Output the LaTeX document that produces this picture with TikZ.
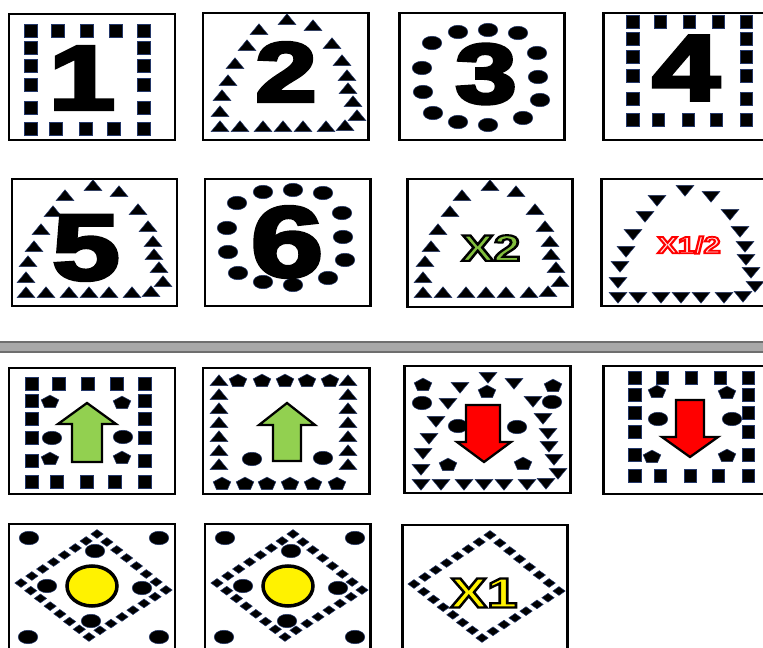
\documentclass[tikz,border=0pt]{standalone}
\usepackage{fontspec}
\setmainfont{Liberation Sans}
\usetikzlibrary{calc,shapes.geometric}
\definecolor{mkedge}{RGB}{35,55,105}
\definecolor{upgreen}{RGB}{146,208,80}
\definecolor{xgreen}{RGB}{130,190,60}
\definecolor{barfill}{RGB}{168,168,168}
\definecolor{baredge}{RGB}{110,110,110}
\definecolor{halfpink}{RGB}{255,225,225}
% text filled in one colour, stroked in another (#2: stroke colour op, #3: width)
\newcommand{\strokedtext}[4]{{\color{#1}\special{pdf:literal direct 2 Tr #3 w #2}#4%
  \special{pdf:literal direct 0 Tr}}}
\tikzset{
 tile/.style={draw=black,line width=1.7pt,fill=white},
 mk sq/.style={rectangle,fill=black,draw=mkedge,line width=.3pt,
               minimum width=.25cm,minimum height=.26cm,inner sep=0pt},
 mk up/.style={regular polygon,regular polygon sides=3,fill=black,draw=mkedge,
               line width=.3pt,minimum size=.41cm,inner sep=0pt,yscale=.7},
 mk down/.style={mk up,shape border rotate=180},
 mk dot/.style={ellipse,fill=black,draw=mkedge,line width=.3pt,
                minimum width=.39cm,minimum height=.27cm,inner sep=0pt},
 mk pent/.style={regular polygon,regular polygon sides=5,fill=black,draw=mkedge,
                 line width=.3pt,minimum size=.37cm,inner sep=0pt,yscale=.74},
 mk dia/.style={diamond,fill=black,draw=mkedge,line width=.3pt,
                minimum width=.25cm,minimum height=.18cm,inner sep=0pt},
 digit/.style={font=\fontsize{#1}{#1}\selectfont\bfseries,inner sep=0pt,xscale=1.3},
 up arrow/.style={fill=upgreen,draw=black,line width=1.3pt,line join=miter},
 down arrow/.style={fill=red,draw=black,line width=1.3pt,line join=miter},
 sun/.style={ellipse,fill=yellow,draw=black,line width=2pt,
             minimum width=1.0cm,minimum height=.8cm,inner sep=0pt},
 sep bar/.style={fill=barfill,draw=baredge,line width=1pt}
}
% marker rings, relative to the tile (or first square)
\newcommand{\archpts}{84/8,56/18,110/14,44/34,129/32,32/52,139/49,25/69,144/64,
 19/84,145/77,17/100,150/90,154/104,17/115,37/115,60/115,80/115,100/115,123/115,142/114}
\newcommand{\ringpts}{59/19,89/17,119/20,33/30,138/40,23/55,139/64,24/79,141/87,
 34/100,59/109,89/112,124/105}
\newcommand{\sqpts}{0/0,27/0,56/0,85/0,113/0,0/17,0/35,0/54,0/77,113/17,113/35,
 113/54,113/77,0/98,25/98,55/98,83/98,113/98}

\begin{document}
\begin{tikzpicture}[x=.02cm,y=-.02cm]
 \fill[white] (0,0) rectangle (763,648);
 \useasboundingbox (0,0) rectangle (763,648);
 % tiles
 \foreach \xa/\ya/\xb/\yb in {9/14/175/140,203/13/368/140,399/13/564/140,603/13/775/140,
   12/179/177/306,205/179/370/306,407/179/572/307,601/179/775/306,
   9/368/175/494,203/368/369/494,404/366/570/493,603/366/775/494,
   9/524/175/660,205/524/370/660,402/525/567/660}
   \draw[tile] (\xa,\ya) rectangle (\xb,\yb);
 \draw[sep bar] (-5,342) rectangle (775,352);
 % squares
 \foreach \ox/\oy in {31/31,633/22,32/384,635/378}
   \foreach \x/\y in \sqpts
     \node[mk sq] at (\ox+\x,\oy+\y) {};
 % triangle arches
 \foreach \ox/\oy in {203/13,9/179,406/179}
   \foreach \x/\y in \archpts
     \node[mk up] at (\ox+\x,\oy+\y) {};
 \foreach \ox/\oy in {601/181,404/368}
   \foreach \x/\y in \archpts
     \node[mk down] at (\ox+\x,\oy+\y) {};
 % dot rings
 \foreach \ox/\oy in {399/13,204/173}
   \foreach \x/\y in \ringpts
     \node[mk dot] at (\ox+\x,\oy+\y) {};
 % tile 10 frame
 \foreach \y in {382,396,410,424,438,452,466}{
   \node[mk up] at (219,\y) {};
   \node[mk up] at (348,\y) {};
 }
 \foreach \x in {238,262,285,307,330} \node[mk pent] at (\x,381) {};
 \foreach \x in {222,245,267,290,313,337} \node[mk pent] at (\x,484) {};
 % loose pentagons and dots
 \foreach \x/\y in {50/402,122/403,50/459,122/458,423/385,487/392,553/386,
   448/465,523/464,657/392,727/393,652/457,727/456}
   \node[mk pent] at (\x,\y) {};
 \foreach \x/\y in {52/438,123/437,252/459,323/458,422/403,552/402,458/426,
   517/427,658/419,732/419}
   \node[mk dot] at (\x,\y) {};
 % rhombus tiles
 \foreach \ox/\oy/\n in {9/524/13,205/524/14,402/525/15}{
   \coordinate (l\n) at (\ox+12,\oy+59);
   \coordinate (t\n) at (\ox+88,\oy+10);
   \coordinate (r\n) at (\ox+157,\oy+66);
   \coordinate (b\n) at (\ox+80,\oy+113);
   \foreach \p/\q in {l/t,t/r,r/b,b/l}
     \foreach \k in {0,...,6}
       \node[mk dia] at ($(\p\n)!\k/7!(\q\n)$) {};
 }
 \foreach \ox/\oy/\n in {9/524/13,205/524/14}{
   \foreach \x/\y in {20/14,150/14,19/113,150/113,86/27,38/62,133/64,82/97}
     \node[mk dot] at (\ox+\x,\oy+\y) {};
   \node[sun] (sun\n) at (\ox+83,\oy+62) {};
 }
 % arrows
 \draw[up arrow] (87,403) -- ++(29,21) -- ++(-14,0) -- ++(0,38) -- ++(-30,0)
   -- ++(0,-38) -- ++(-14,0) -- cycle;
 \draw[up arrow] (287,403) -- ++(28,22) -- ++(-14,0) -- ++(0,36) -- ++(-28,0)
   -- ++(0,-36) -- ++(-14,0) -- cycle;
 \draw[down arrow] (484,462) -- ++(27,-20) -- ++(-11,0) -- ++(0,-37) -- ++(-34,0)
   -- ++(0,37) -- ++(-9,0) -- cycle;
 \draw[down arrow] (690,457) -- ++(28,-20) -- ++(-14,0) -- ++(0,-37) -- ++(-28,0)
   -- ++(0,37) -- ++(-14,0) -- cycle;
 % digits
 \node[digit=52] (d1) at (82,78) {\strokedtext{black}{0 G}{2}{1}};
 \node[digit=48] (d2) at (286,72) {\strokedtext{black}{0 G}{2}{2}};
 \node[digit=48] (d3) at (486,74) {\strokedtext{black}{0 G}{2}{3}};
 \node[digit=53] (d4) at (686,68) {\strokedtext{black}{0 G}{2}{4}};
 \node[digit=53] (d5) at (86,248) {\strokedtext{black}{0 G}{2}{5}};
 \node[digit=57] (d6) at (287,242) {\strokedtext{black}{0 G}{2}{6}};
 % outlined labels
 \node[digit=21] (x2) at (491,248) {\strokedtext{xgreen}{0 G}{1.2}{X2}};
 \node[digit=24] (x1) at (484,593) {\strokedtext{yellow}{0 G}{1.2}{X1}};
 \node[digit=13.5] (xhalf) at (689,245) {\strokedtext{halfpink}{1 0 0 RG}{1}{X1/2}};
\end{tikzpicture}
\end{document}
